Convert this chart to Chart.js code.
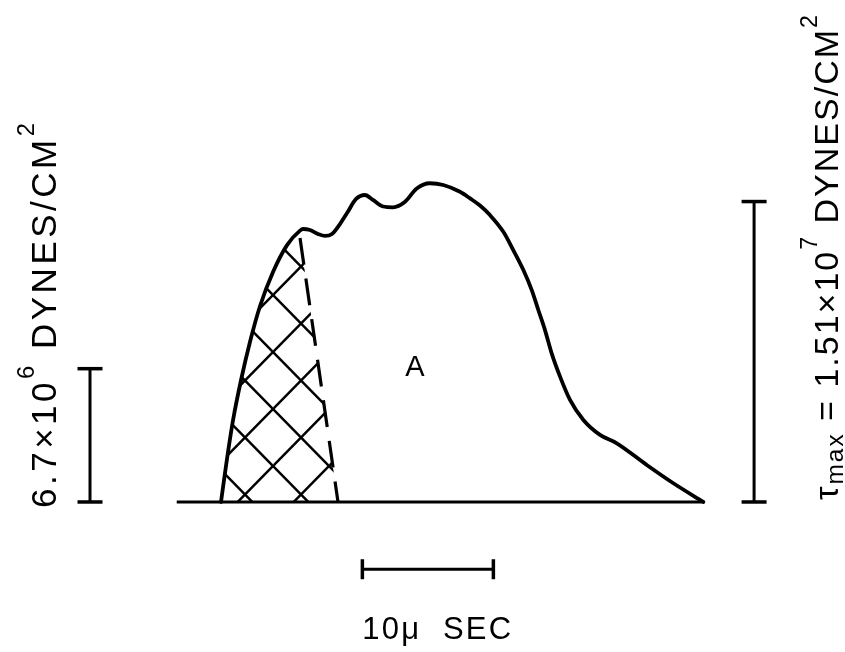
<!DOCTYPE html>
<html><head><meta charset="utf-8">
<script src="https://cdn.jsdelivr.net/npm/chart.js@4"></script>
<style>html,body{margin:0;padding:0;background:#fff;overflow:hidden}canvas{display:block}</style>
</head><body>
<canvas id="c" width="845" height="652"></canvas>
<script>
// ---- data (time in µs, stress in 10^6 dynes/cm^2) ----
const curveT = [0, 0.23, 0.50, 0.92, 1.53, 2.21, 2.98, 3.97, 5.04, 6.03, 6.26, 6.79, 7.40, 7.94, 8.47, 9.08, 9.62, 10.31, 10.99, 11.60, 12.37, 13.13, 14.05, 14.94, 15.95, 16.97, 18.24, 19.01, 19.77, 20.53, 21.55, 22.31, 23.08, 23.72, 24.22, 24.73, 25.24, 25.88, 26.64, 27.66, 28.93, 30.21, 32.50, 34.53, 36.82];
const curveV = [0, 1.11, 2.36, 4.12, 6.13, 8.04, 9.85, 11.56, 12.91, 13.64, 13.72, 13.67, 13.47, 13.37, 13.47, 13.97, 14.52, 15.23, 15.43, 15.18, 14.85, 14.81, 15.09, 15.76, 16.02, 15.93, 15.59, 15.26, 14.90, 14.42, 13.58, 12.66, 11.66, 10.65, 9.65, 8.64, 7.47, 6.30, 5.13, 4.12, 3.37, 2.95, 1.86, 0.94, 0];
const hatchEndT = 6.03;
const dashT = [6.03, 8.93];
const dashV = [13.27, 0];
const baseT = [-3.38, 36.82];
const baseV = [0, 0];
const leftBarT = [-10, -10];
const leftBarV = [0, 6.7];
const rightBarT = [40.69, 40.69];
const rightBarV = [0, 15.1];
const timeBarT = [10.79, 20.79];
const timeBarV = [-3.38, -3.38];
const leftLabel = [["6.7×10", 0], ["6", 1], [" DYNES/CM", 0], ["2", 1]];
const rightLabel = [["τ", 0], ["max", -1], [" = 1.51×10", 0], ["7", 1], [" DYNES/CM", 0], ["2", 1]];
const timeLabel = [["10μ  SEC", 0]];
const regionLabel = "A";

// ---- helpers ----
const pts = (xs, ys) => xs.map((x, i) => ({x: x, y: ys[i]}));
const canvas = document.getElementById('c');
const ctx0 = canvas.getContext('2d');

function hatchPattern() {
  const w = 56, h = 57;
  const c = document.createElement('canvas');
  c.width = w; c.height = h;
  const g = c.getContext('2d');
  g.strokeStyle = '#000'; g.lineWidth = 2.5;
  for (const k of [-1, 0, 1]) {
    g.beginPath(); g.moveTo(k * w - w, -h); g.lineTo(k * w + 2 * w, 2 * h); g.stroke();
    g.beginPath(); g.moveTo(k * w + 2 * w, -h); g.lineTo(k * w - w, 2 * h); g.stroke();
  }
  const p = ctx0.createPattern(c, 'repeat');
  p.setTransform(new DOMMatrix().translate(49, 10));
  return p;
}
const hatch = hatchPattern();

const FONT = '"Liberation Sans", Arial, sans-serif';
function drawRich(ctx, pieces, x, y, angle, size, spacing) {
  ctx.save();
  ctx.translate(x, y); ctx.rotate(angle);
  ctx.fillStyle = '#000'; ctx.textBaseline = 'alphabetic'; ctx.textAlign = 'left';
  ctx.letterSpacing = spacing + 'px';
  let cx = 0;
  for (const [txt, kind] of pieces) {
    let fs = size, dy = 0;
    if (kind === 1) { fs = size * 0.68; dy = -size * 0.62; }
    else if (kind === -1) { fs = size * 0.72; dy = size * 0.16; }
    ctx.font = fs + 'px ' + FONT;
    ctx.fillText(txt, cx, dy);
    cx += ctx.measureText(txt).width;
  }
  ctx.restore();
}

const textPlugin = {
  id: 'texts',
  afterDraw(chart) {
    const ctx = chart.ctx;
    const xs = chart.scales.x;
    drawRich(ctx, leftLabel, 56, 508, -Math.PI / 2, 35, 3.5);
    drawRich(ctx, rightLabel, 838, 500, -Math.PI / 2, 34, 2);
    drawRich(ctx, timeLabel, xs.getPixelForValue(timeBarT[0]), 639, 0, 31, 2.2);
    ctx.save();
    ctx.fillStyle = '#000';
    ctx.font = '29px ' + FONT;
    ctx.textAlign = 'center'; ctx.textBaseline = 'middle';
    ctx.fillText(regionLabel, 415, 368);
    ctx.restore();
  }
};

const barStyle = (rot) => ({
  borderColor: '#000', borderWidth: 3, pointStyle: 'line', pointRadius: 12.5,
  pointBorderWidth: 3.5, pointBorderColor: '#000', pointRotation: rot, fill: false, tension: 0, order: 1
});

new Chart(canvas, {
  type: 'line',
  data: {
    datasets: [
      { data: pts(curveT, curveV), borderColor: '#000', borderWidth: 3.8, cubicInterpolationMode: 'monotone',
        pointRadius: 0, fill: false, order: 0, borderJoinStyle: 'round', borderCapStyle: 'round' },
      { data: pts(curveT.filter(t => t <= hatchEndT), curveV.filter((v, i) => curveT[i] <= hatchEndT)),
        borderColor: 'rgba(0,0,0,0)', borderWidth: 1, cubicInterpolationMode: 'monotone', pointRadius: 0,
        fill: 'origin', backgroundColor: hatch, order: 10 },
      { data: pts(dashT, dashV), borderColor: '#000', borderWidth: 3.2, borderDash: [27, 14], tension: 0,
        pointRadius: 0, fill: 'origin', backgroundColor: hatch, order: 9 },
      { data: pts(baseT, baseV), borderColor: '#000', borderWidth: 3, pointRadius: 0, fill: false, tension: 0, order: 2 },
      Object.assign({ data: pts(leftBarT, leftBarV) }, barStyle(0)),
      Object.assign({ data: pts(rightBarT, rightBarV) }, barStyle(0)),
      Object.assign({ data: pts(timeBarT, timeBarV) }, barStyle(90), { pointRadius: 10 })
    ]
  },
  options: {
    responsive: false, animation: false, events: [],
    layout: { padding: 0, autoPadding: false },
    plugins: { legend: { display: false }, tooltip: { enabled: false }, title: { display: false } },
    scales: {
      x: { type: 'linear', min: -16.87, max: 47.63, display: false },
      y: { type: 'linear', min: -7.54, max: 25.23, display: false }
    }
  },
  plugins: [textPlugin]
});
</script>
</body></html>
